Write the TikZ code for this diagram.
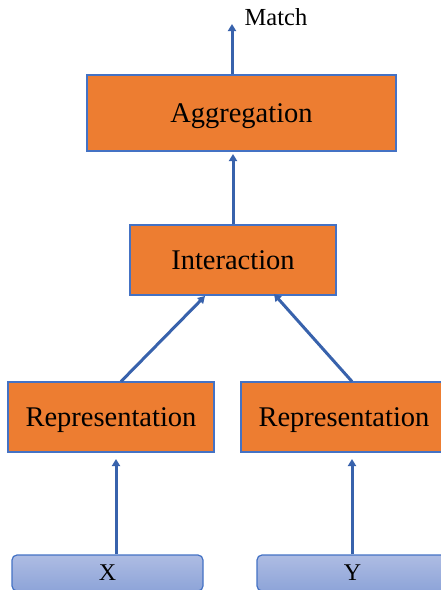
\documentclass[tikz,border=0pt]{standalone}
\usepackage{fontspec}
\setmainfont{Liberation Serif}
\usetikzlibrary{arrows.meta}
\definecolor{boxorange}{HTML}{ED7D31}
\definecolor{boxedge}{HTML}{4472C4}
\definecolor{arrowblue}{HTML}{3862AC}
\definecolor{intop}{HTML}{AEBCE3}
\definecolor{inbot}{HTML}{8DA4D8}
\tikzset{
  stagebox/.style={draw=boxedge, line width=1.2pt, fill=boxorange, anchor=center, inner sep=0pt, text depth=0pt, font=\fontsize{28.5}{34}\selectfont},
  inputbox/.style={draw=boxedge, line width=1.2pt, rounded corners=5pt, top color=intop, bottom color=inbot, inner sep=0pt, text depth=0pt, font=\fontsize{24}{28}\selectfont},
  flow/.style={draw=arrowblue, line width=3pt, -{Triangle[width=8pt,length=7pt]}},
}
\begin{document}
\begin{tikzpicture}[x=1pt,y=-1pt]
\useasboundingbox (0,0) rectangle (441,590);
\node[stagebox, minimum width=309pt, minimum height=76pt] (agg) at (241.5,113) {Aggregation};
\node[stagebox, minimum width=206pt, minimum height=70pt] (inter) at (233,260) {Interaction};
\node[stagebox, minimum width=206pt, minimum height=70pt] (repl) at (111,417) {Representation};
\node[stagebox, minimum width=206pt, minimum height=70pt] (repr) at (344,417) {Representation};
\node[inputbox, minimum width=191pt, minimum height=36pt] (x) at (107.5,573) {X};
\node[inputbox, minimum width=191pt, minimum height=36pt] (y) at (352.5,573) {Y};
\node[font=\fontsize{24.5}{28}\selectfont, inner sep=0pt] (match) at (276,17) {Match};
\coordinate (mtip) at (232,24);
\coordinate (aggin) at (233,154);
\coordinate (interinl) at (205,296);
\coordinate (interinr) at (274,294);
\coordinate (replin) at (116,459);
\coordinate (reprin) at (352,459);
\draw[flow] (agg.north -| mtip) -- (mtip);
\draw[flow] (inter.north -| aggin) -- (aggin);
\draw[flow] (121,381.5) -- (interinl);
\draw[flow] (352,381.5) -- (interinr);
\draw[flow] (x.north -| replin) -- (replin);
\draw[flow] (y.north -| reprin) -- (reprin);
\end{tikzpicture}
\end{document}
